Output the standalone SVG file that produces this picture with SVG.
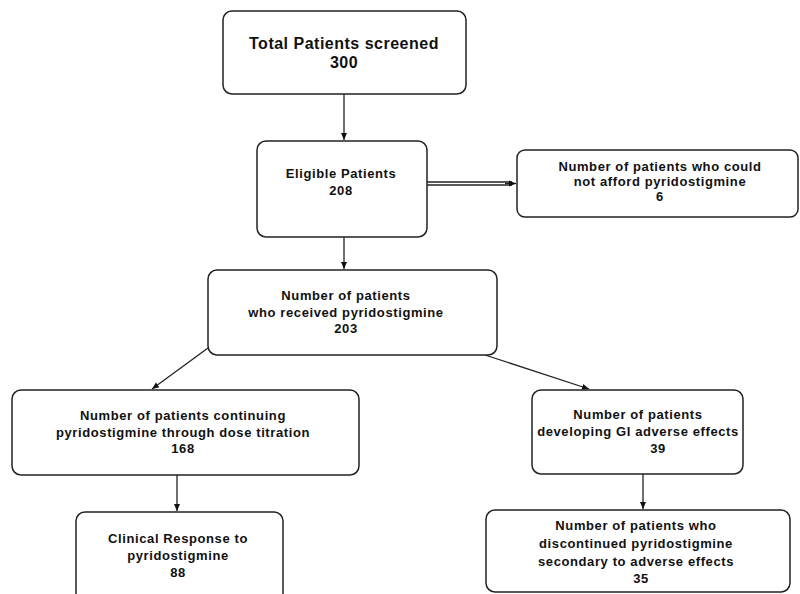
<svg xmlns="http://www.w3.org/2000/svg" width="800" height="594" viewBox="0 0 800 594">
<defs>
<marker id="ah" markerWidth="8" markerHeight="8" refX="7" refY="4" orient="auto" markerUnits="userSpaceOnUse">
<path d="M0,1 L7,4 L0,7 z" fill="#111"/>
</marker>
<style>
.box{fill:#fff;stroke:#222;stroke-width:1.5}
.t{font-family:"Liberation Sans",Arial,sans-serif;font-size:13px;font-weight:bold;fill:#111;text-anchor:middle;letter-spacing:0.6px}
.big{font-size:16px;letter-spacing:0.5px}
.c{stroke:#222;stroke-width:1.3;fill:none}
</style>
</defs>
<rect width="800" height="594" fill="#fff"/>
<g id="connectors">
<line class="c" x1="344" y1="94" x2="344" y2="140" marker-end="url(#ah)"/>
<line class="c" x1="427" y1="182" x2="512" y2="182"/>
<line class="c" x1="427" y1="185" x2="512" y2="185"/>
<line class="c" x1="505" y1="183.5" x2="516" y2="183.5" stroke-width="0.5" marker-end="url(#ah)"/>
<line class="c" x1="344" y1="237" x2="344" y2="269" marker-end="url(#ah)"/>
<line class="c" x1="208" y1="348" x2="152" y2="389" marker-end="url(#ah)"/>
<line class="c" x1="485" y1="355" x2="589" y2="389" marker-end="url(#ah)"/>
<line class="c" x1="177" y1="475" x2="177" y2="511" marker-end="url(#ah)"/>
<line class="c" x1="643" y1="474" x2="643" y2="509" marker-end="url(#ah)"/>
</g>
<g id="n1">
<rect class="box" x="223" y="11" width="243" height="83" rx="9"/>
<text class="t big" x="344" y="49">Total Patients screened</text>
<text class="t big" x="344" y="68">300</text>
</g>
<g id="n2">
<rect class="box" x="257" y="141" width="170" height="96" rx="9"/>
<text class="t" x="341" y="178">Eligible Patients</text>
<text class="t" x="341" y="195">208</text>
</g>
<g id="n3">
<rect class="box" x="517" y="150" width="281" height="67" rx="8"/>
<text class="t" x="660" y="171">Number of patients who could</text>
<text class="t" x="660" y="186">not afford pyridostigmine</text>
<text class="t" x="660" y="201">6</text>
</g>
<g id="n4">
<rect class="box" x="208" y="270" width="289" height="85" rx="9"/>
<text class="t" x="346" y="300">Number of patients</text>
<text class="t" x="346" y="317">who received pyridostigmine</text>
<text class="t" x="346" y="333">203</text>
</g>
<g id="n5">
<rect class="box" x="12" y="390" width="347" height="85" rx="9"/>
<text class="t" x="183" y="420">Number of patients continuing</text>
<text class="t" x="183" y="437">pyridostigmine through dose titration</text>
<text class="t" x="183" y="453">168</text>
</g>
<g id="n6">
<rect class="box" x="532" y="390" width="211" height="84" rx="9"/>
<text class="t" x="638" y="419">Number of patients</text>
<text class="t" x="638" y="436">developing GI adverse effects</text>
<text class="t" x="658" y="453">39</text>
</g>
<g id="n7">
<rect class="box" x="76" y="512" width="207" height="90" rx="9"/>
<text class="t" x="178" y="543">Clinical Response to</text>
<text class="t" x="178" y="560">pyridostigmine</text>
<text class="t" x="178" y="577">88</text>
</g>
<g id="n8">
<rect class="box" x="486" y="510" width="304" height="82" rx="9"/>
<text class="t" x="636" y="530">Number of patients who</text>
<text class="t" x="636" y="548">discontinued pyridostigmine</text>
<text class="t" x="636" y="566">secondary to adverse effects</text>
<text class="t" x="641" y="583">35</text>
</g>
</svg>
